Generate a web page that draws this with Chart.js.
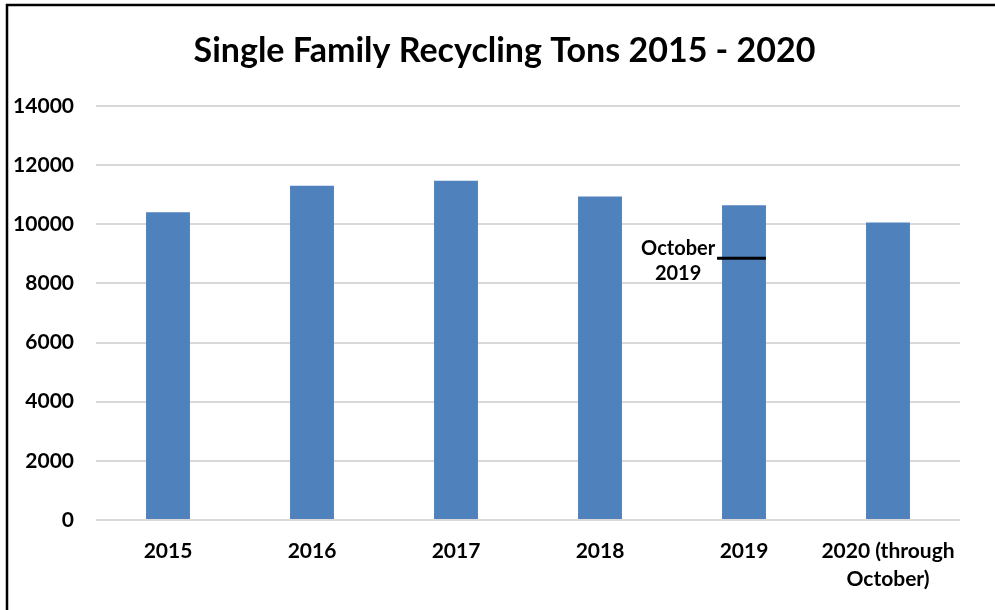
<!DOCTYPE html>
<html>
<head>
<meta charset="utf-8">
<title>Single Family Recycling Tons 2015 - 2020</title>
<script src="https://cdn.jsdelivr.net/npm/chart.js@4.4.0/dist/chart.umd.min.js"></script>
<style>
    html, body { margin: 0; padding: 0; background: #ffffff; }
    #wrap { width: 995px; height: 610px; position: relative; }
</style>
</head>
<body>
<div id="wrap"><canvas id="recyclingChart"></canvas></div>
<script>
// Chart data
const chartTitle = 'Single Family Recycling Tons 2015 - 2020';
const years = ['2015', '2016', '2017', '2018', '2019', ['2020 (through', 'October)']];
const tons = [10410, 11300, 11470, 10940, 10640, 10060];
const yTicks = [0, 2000, 4000, 6000, 8000, 10000, 12000, 14000];

// "October 2019" marker on the 2019 bar
const markerIndex = 4;
const markerValue = 8850;
const markerLabel = ['October', '2019'];

const FONT = 'Lato, "Open Sans", sans-serif';

// White background, frame (left and top edges only are visible) and title
// centred on the whole picture rather than on the padded box
const framePlugin = {
    id: 'frame',
    beforeDraw(chart) {
        const ctx = chart.ctx;
        ctx.save();
        ctx.fillStyle = '#ffffff';
        ctx.fillRect(0, 0, chart.width, chart.height);
        ctx.strokeStyle = '#000000';
        ctx.lineWidth = 2.5;
        ctx.beginPath();
        ctx.moveTo(7, chart.height);
        ctx.lineTo(7, 5);
        ctx.lineTo(chart.width, 5);
        ctx.stroke();

        ctx.fillStyle = '#000000';
        ctx.font = 'bold 34px ' + FONT;
        ctx.textAlign = 'center';
        ctx.textBaseline = 'middle';
        ctx.fillText(chartTitle, chart.width / 2 + 7, 51);
        ctx.restore();
    }
};

// Draw the October 2019 marker line and its label
const markerPlugin = {
    id: 'marker',
    afterDatasetsDraw(chart) {
        const ctx = chart.ctx;
        const bar = chart.getDatasetMeta(0).data[markerIndex];
        const y = chart.scales.y.getPixelForValue(markerValue);
        const left = bar.x - bar.width / 2;
        const right = bar.x + bar.width / 2;

        ctx.save();
        ctx.strokeStyle = '#000000';
        ctx.lineWidth = 3;
        ctx.beginPath();
        ctx.moveTo(left - 5, y);
        ctx.lineTo(right, y);
        ctx.stroke();

        ctx.fillStyle = '#000000';
        ctx.font = 'bold 20px ' + FONT;
        ctx.textAlign = 'center';
        ctx.textBaseline = 'middle';
        const tx = bar.x - bar.width * 1.5;
        ctx.fillText(markerLabel[0], tx, y - 10);
        ctx.fillText(markerLabel[1], tx, y + 15);
        ctx.restore();
    }
};

const ctx = document.getElementById('recyclingChart').getContext('2d');
new Chart(ctx, {
    type: 'bar',
    data: {
        labels: years,
        datasets: [{
            label: 'Tons',
            data: tons,
            backgroundColor: '#4F81BD',
            borderWidth: 0,
            barPercentage: 0.305,
            categoryPercentage: 1.0
        }]
    },
    options: {
        responsive: true,
        maintainAspectRatio: false,
        animation: false,
        layout: {
            padding: { left: 0, right: 35, top: 106, bottom: 0 }
        },
        plugins: {
            legend: { display: false },
            tooltip: { enabled: false },
            title: { display: false }
        },
        scales: {
            x: {
                grid: { display: false, drawTicks: false },
                border: { display: false },
                ticks: {
                    color: '#000000',
                    padding: 18,
                    maxRotation: 0,
                    autoSkip: false,
                    font: { family: FONT, size: 21, weight: 'bold', lineHeight: 1.3 }
                },
                afterFit(scale) { scale.height = 90; }
            },
            y: {
                min: 0,
                max: 14000,
                afterBuildTicks(scale) {
                    scale.ticks = yTicks.map(v => ({ value: v }));
                },
                grid: { color: '#D9D9D9', lineWidth: 2, drawTicks: false },
                border: { display: false },
                ticks: {
                    color: '#000000',
                    padding: 22,
                    font: { family: FONT, size: 21, weight: 'bold' },
                    callback: value => String(value)
                },
                afterFit(scale) { scale.width = 96; }
            }
        }
    },
    plugins: [framePlugin, markerPlugin]
});
</script>
</body>
</html>
